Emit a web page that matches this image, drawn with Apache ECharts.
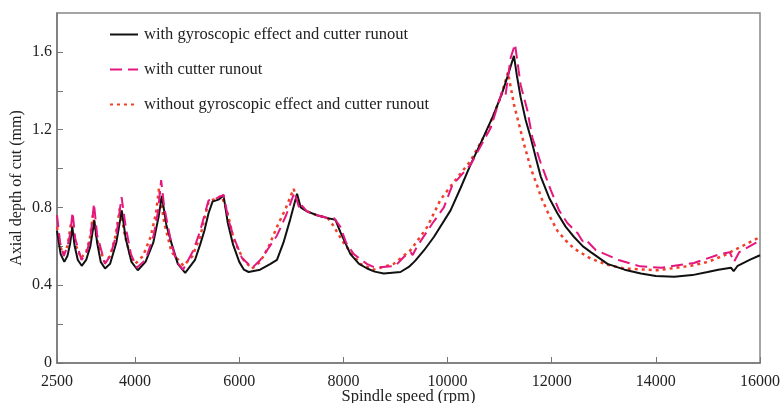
<!DOCTYPE html>
<html>
<head>
<meta charset="utf-8">
<script src="https://cdn.jsdelivr.net/npm/echarts@6/dist/echarts.min.js"></script>
<style>html,body{margin:0;padding:0;background:#fff;overflow:hidden;}#c{width:780px;height:403px;}</style>
</head>
<body>
<div id="c"></div>
<script>
var seriesNames = ['with gyroscopic effect and cutter runout', 'with cutter runout', 'without gyroscopic effect and cutter runout'];
var xTickLabels = [2500, 4000, 6000, 8000, 10000, 12000, 14000, 16000];
var yTickLabels = [0, 0.4, 0.8, 1.2, 1.6];
var yTicks = [0, 0.2, 0.4, 0.6, 0.8, 1.0, 1.2, 1.4, 1.6];

var gyroSpeed = [2500,2570,2640,2700,2750,2794,2840,2900,2975,3060,3140,3217,3270,3340,3423,3520,3640,3744,3820,3930,4052,4200,4350,4450,4513,4600,4705,4820,4962,5150,5250,5330,5410,5487,5600,5698,5780,5880,6000,6090,6179,6400,6600,6724,6850,6980,7110,7180,7300,7494,7700,7846,7942,8135,8300,8456,8600,8775,9096,9256,9288,9320,9385,9550,9737,10058,10250,10442,10670,10890,11050,11148,11275,11330,11404,11500,11596,11700,11788,11950,12109,12270,12429,12600,12750,13071,13400,13712,14000,14352,14700,14994,15200,15442,15494,15571,15800,16000];
var gyroDepth = [0.68,0.56,0.52,0.55,0.61,0.70,0.60,0.53,0.50,0.53,0.60,0.733,0.62,0.52,0.486,0.51,0.62,0.785,0.64,0.52,0.477,0.52,0.62,0.75,0.86,0.71,0.61,0.51,0.463,0.53,0.61,0.68,0.77,0.83,0.84,0.862,0.72,0.61,0.52,0.48,0.468,0.48,0.51,0.53,0.62,0.74,0.87,0.80,0.78,0.76,0.745,0.737,0.673,0.56,0.51,0.486,0.47,0.46,0.468,0.494,0.484,0.51,0.528,0.58,0.648,0.785,0.90,1.02,1.15,1.28,1.39,1.47,1.58,1.48,1.366,1.25,1.16,1.05,0.96,0.85,0.77,0.70,0.648,0.60,0.57,0.51,0.48,0.46,0.448,0.443,0.452,0.468,0.48,0.49,0.472,0.50,0.53,0.554];

var runoutSpeed = [2500,2560,2630,2700,2750,2800,2850,2970,3060,3140,3210,3270,3420,3520,3640,3740,3820,3920,4030,4200,4350,4440,4500,4560,4700,4800,4920,5121,5250,5410,5550,5698,5800,5890,6052,6250,6404,6560,6725,6900,7060,7160,7200,7300,7494,7700,7820,7850,7942,8050,8198,8450,8615,9000,9160,9290,9330,9417,9705,9929,10090,10442,10830,11052,11083,11115,11212,11295,11404,11532,11628,11788,11981,12141,12300,12500,12560,12600,12650,12850,13300,13700,14100,14730,15230,15420,15500,15600,15900,16000];
var runoutDepth = [0.76,0.62,0.55,0.60,0.66,0.776,0.64,0.53,0.56,0.64,0.82,0.66,0.51,0.55,0.66,0.853,0.70,0.56,0.49,0.53,0.65,0.78,0.94,0.80,0.61,0.52,0.48,0.58,0.68,0.836,0.845,0.865,0.73,0.65,0.54,0.49,0.53,0.59,0.656,0.76,0.878,0.79,0.81,0.78,0.76,0.745,0.745,0.755,0.70,0.62,0.56,0.51,0.49,0.50,0.545,0.57,0.555,0.60,0.716,0.80,0.913,1.02,1.21,1.40,1.41,1.38,1.57,1.64,1.43,1.30,1.16,1.03,0.89,0.785,0.72,0.667,0.64,0.625,0.635,0.58,0.528,0.497,0.49,0.514,0.56,0.57,0.52,0.57,0.615,0.63];

var noneSpeed = [2500,2560,2620,2700,2770,2840,2960,3060,3130,3190,3260,3410,3520,3620,3710,3800,3900,4000,4150,4300,4400,4460,4560,4700,4930,5100,5250,5410,5550,5660,5763,5900,6083,6244,6400,6550,6725,6900,7044,7150,7300,7494,7700,7783,7879,8000,8135,8327,8583,8968,9288,9480,9610,9865,10090,10442,10763,11019,11160,11275,11468,11600,11724,11800,11950,12109,12270,12429,12750,13071,13391,14030,14672,15000,15313,15650,16000];
var noneDepth = [0.70,0.60,0.56,0.60,0.72,0.62,0.54,0.57,0.64,0.76,0.64,0.52,0.55,0.65,0.80,0.66,0.56,0.51,0.55,0.65,0.77,0.90,0.72,0.57,0.50,0.55,0.65,0.83,0.845,0.86,0.785,0.63,0.53,0.485,0.52,0.59,0.70,0.80,0.896,0.81,0.78,0.76,0.745,0.716,0.673,0.62,0.57,0.51,0.48,0.51,0.58,0.65,0.70,0.84,0.92,1.04,1.195,1.366,1.494,1.33,1.126,1.00,0.91,0.85,0.76,0.68,0.63,0.588,0.537,0.505,0.486,0.477,0.50,0.52,0.554,0.60,0.648];

function zip(xs, ys) { return xs.map(function (x, i) { return [x, ys[i]]; }); }

var font = 'Liberation Serif';
var chart = echarts.init(document.getElementById('c'), null, {renderer: 'canvas'});
chart.setOption({
  animation: false,
  backgroundColor: '#fff',
  grid: {left: 57, right: 20, top: 13, bottom: 40, show: true, borderColor: '#888', borderWidth: 1.5,
         backgroundColor: 'transparent', containLabel: false, outerBoundsMode: 'none'},
  legend: {
    orient: 'vertical', left: 104, top: 21, itemGap: 18, itemWidth: 28, itemHeight: 17,
    data: seriesNames,
    itemStyle: {opacity: 0, borderWidth: 0},
    textStyle: {fontFamily: font, fontSize: 16.5, color: '#222', padding: [0, 0, 0, 1]}
  },
  xAxis: {
    type: 'value', min: 2500, max: 16000,
    name: 'Spindle speed (rpm)', nameLocation: 'middle', nameGap: 25, nameMoveOverlap: false,
    nameTextStyle: {fontFamily: font, fontSize: 16.5, color: '#222', verticalAlign: 'top'},
    axisLine: {lineStyle: {color: '#777', width: 1.5}},
    axisTick: {inside: true, length: 6, customValues: xTickLabels, lineStyle: {color: '#777'}},
    axisLabel: {customValues: xTickLabels, fontFamily: font, fontSize: 16, color: '#222', margin: 11,
                formatter: function (v) { return String(v); }},
    splitLine: {show: false}
  },
  yAxis: {
    type: 'value', min: 0, max: 1.8,
    name: 'Axial depth of cut (mm)', nameLocation: 'middle', nameGap: 32, nameMoveOverlap: false,
    nameTextStyle: {fontFamily: font, fontSize: 16, color: '#222'},
    axisLine: {lineStyle: {color: '#777', width: 1.5}},
    axisTick: {inside: true, length: 6, customValues: yTicks, lineStyle: {color: '#777'}},
    axisLabel: {customValues: yTickLabels, fontFamily: font, fontSize: 16, color: '#222', margin: 5,
                formatter: function (v) { return String(v); }},
    splitLine: {show: false}
  },
  series: [
    {name: seriesNames[0], type: 'line', symbol: 'none', z: 3, data: zip(gyroSpeed, gyroDepth),
     lineStyle: {color: '#111', width: 2}, itemStyle: {color: '#111'}},
    {name: seriesNames[1], type: 'line', symbol: 'none', z: 4, data: zip(runoutSpeed, runoutDepth),
     lineStyle: {color: '#e4177f', width: 2, type: [12, 6]}, itemStyle: {color: '#e4177f'}},
    {name: seriesNames[2], type: 'line', symbol: 'none', z: 2, data: zip(noneSpeed, noneDepth),
     lineStyle: {color: '#f0402a', width: 2.5, type: [3, 4]}, itemStyle: {color: '#f0402a'}}
  ]
});
</script>
</body>
</html>
